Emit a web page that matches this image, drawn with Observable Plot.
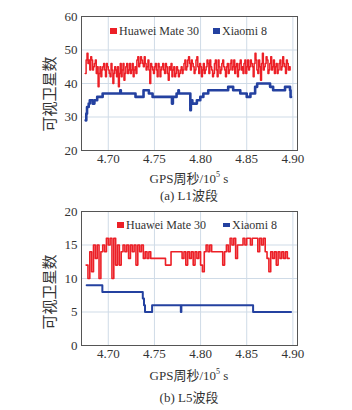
<!DOCTYPE html>
<html>
<head>
<meta charset="utf-8">
<script src="https://cdn.jsdelivr.net/npm/d3@7"></script>
<script src="https://cdn.jsdelivr.net/npm/@observablehq/plot@0.6"></script>
<style>
  html, body { margin: 0; padding: 0; background: #fff; }
  #wrap { position: relative; width: 352px; font-family: "Liberation Serif", "Noto Sans CJK SC", serif; color: #333; }
  .xlab, .cap { text-align: center; font-size: 13px; width: 352px; padding-left: 26px; box-sizing: border-box; overflow: visible; }
  .leg { position: absolute; font-size: 12px; white-space: nowrap; line-height: 14px; }
  .sw { position: absolute; }
  svg { display: block; }
</style>
</head>
<body>
<div id="wrap"></div>
<script>
// ---------- data ----------
const xTicks = [4.70, 4.75, 4.80, 4.85, 4.90];
const xDomain = [4.671, 4.905];
const yTicksL1 = [20, 30, 40, 50, 60];
const yTicksL5 = [0, 5, 10, 15, 20];
const seriesNames = ["Huawei Mate 30", "Xiaomi 8"];
const colors = ["#ec2027", "#2441a0"];

// L1 Huawei Mate 30 (GPS week seconds /1e5, visible satellites)
const huaweiL1T = [
 4.675,4.676,4.677,4.678,4.679,4.680,4.681,4.682,4.683,4.684,
 4.685,4.686,4.687,4.688,4.689,4.690,4.691,4.692,4.693,4.694,
 4.695,4.696,4.697,4.698,4.699,4.700,4.701,4.702,4.703,4.704,
 4.705,4.706,4.707,4.708,4.709,4.710,4.711,4.712,4.713,4.714,
 4.715,4.716,4.717,4.718,4.719,4.720,4.721,4.722,4.723,4.724,
 4.725,4.726,4.727,4.728,4.729,4.730,4.731,4.732,4.733,4.734,
 4.735,4.736,4.737,4.738,4.739,4.740,4.741,4.742,4.743,4.744,
 4.745,4.746,4.747,4.748,4.749,4.750,4.751,4.752,4.753,4.754,
 4.755,4.756,4.757,4.758,4.759,4.760,4.761,4.762,4.763,4.764,
 4.765,4.766,4.767,4.768,4.769,4.770,4.771,4.772,4.773,4.774,
 4.775,4.776,4.777,4.778,4.779,4.780,4.781,4.782,4.783,4.784,
 4.785,4.786,4.787,4.788,4.789,4.790,4.791,4.792,4.793,4.794,
 4.795,4.796,4.797,4.798,4.799,4.800,4.801,4.802,4.803,4.804,
 4.805,4.806,4.807,4.808,4.809,4.810,4.811,4.812,4.813,4.814,
 4.815,4.816,4.817,4.818,4.819,4.820,4.821,4.822,4.823,4.824,
 4.825,4.826,4.827,4.828,4.829,4.830,4.831,4.832,4.833,4.834,
 4.835,4.836,4.837,4.838,4.839,4.840,4.841,4.842,4.843,4.844,
 4.845,4.846,4.847,4.848,4.849,4.850,4.851,4.852,4.853,4.854,
 4.855,4.856,4.857,4.858,4.859,4.860,4.861,4.862,4.863,4.864,
 4.865,4.866,4.867,4.868,4.869,4.870,4.871,4.872,4.873,4.874,
 4.875,4.876,4.877,4.878,4.879,4.880,4.881,4.882,4.883,4.884,
 4.885,4.886,4.887,4.888,4.889,4.890,4.891,4.892,4.893,4.894,
 4.895,4.896,4.897];
const huaweiL1V = [
 43,47,49,46,47,44,48,47,44,45,
 46,47,43,45,39,43,45,42,44,45,
 46,44,42,46,45,44,43,42,46,44,
 40,43,45,44,42,45,39,43,46,42,
 44,46,41,43,45,46,43,44,46,43,
 44,46,42,44,45,43,47,48,45,46,
 48,47,46,45,48,46,44,45,47,44,
 40,46,45,44,43,45,46,44,42,46,
 45,42,44,45,46,44,43,46,45,43,
 41,45,44,46,42,44,45,42,43,45,
 44,42,43,44,45,43,44,46,47,44,
 45,47,48,46,44,47,46,45,43,44,
 47,48,45,43,46,45,42,44,46,43,
 44,45,47,46,43,47,45,44,42,43,
 46,47,44,42,47,45,43,44,46,47,
 45,44,42,45,46,43,44,46,47,44,
 45,47,43,45,46,42,44,46,47,44,
 45,43,46,47,43,45,47,44,45,47,
 46,45,42,46,49,47,44,43,47,45,
 41,46,49,44,45,46,48,47,43,44,
 46,48,44,45,47,43,45,46,43,44,
 46,47,44,45,48,46,45,43,47,46,
 44,45,44];

// L1 Xiaomi 8
const xiaomiL1T = [4.6755,4.6762,4.6770,4.6788,4.6800,4.6830,4.6850,4.6880,4.6939,4.7130,4.7136,4.7295,4.7382,4.7440,4.7480,4.7690,4.7700,4.7740,4.7760,4.7765,4.7889,4.7895,4.7911,4.7960,4.7997,4.8030,4.8083,4.8299,4.8353,4.8430,4.8500,4.8540,4.8591,4.8613,4.8753,4.8786,4.8915,4.8969,4.8975,4.8980];
const xiaomiL1V = [29,31,33,34,35,34,35,36,37,38,37,36,38,37,36,34,36,37,38,37,32,35,34,35,36,37,38,39,38,37,36,37,39,40,39,38,39,38,36,36];

// L5 Huawei Mate 30
const huaweiL5T = [4.676,4.678,4.680,4.682,4.684,4.686,4.688,4.690,4.692,4.694,4.696,4.698,4.700,4.702,4.704,4.706,4.708,4.710,4.712,4.714,4.716,4.718,4.720,4.722,4.724,4.726,4.728,4.730,4.732,4.734,4.736,4.738,4.740,4.742,4.744,4.746,4.748,4.762,4.768,4.780,4.782,4.784,4.786,4.788,4.790,4.792,4.794,4.796,4.798,4.800,4.802,4.804,4.806,4.808,4.810,4.812,4.824,4.826,4.828,4.830,4.832,4.834,4.836,4.838,4.840,4.846,4.848,4.850,4.854,4.856,4.862,4.864,4.866,4.868,4.870,4.872,4.874,4.876,4.878,4.880,4.882,4.884,4.886,4.888,4.890,4.892,4.894,4.896];
const huaweiL5V = [12,10,14,11,15,13,15,10,14,15,14,16,15,16,10,16,12,15,12,14,15,14,15,13,15,14,15,12,15,14,15,13,14,13,14,13,13,12,14,13,14,12,14,13,14,12,14,13,14,12,11,14,15,14,15,14,12,14,15,14,16,15,16,13,15,16,15,16,15,16,14,16,15,16,14,13,11,14,13,14,12,14,13,14,13,14,13,13];

// L5 Xiaomi 8
const xiaomiL5T = [4.6766,4.6936,4.7374,4.7387,4.7398,4.7475,4.7786,4.7792,4.8569,4.8980];
const xiaomiL5V = [9,8,7,6,5,6,5,6,5,5];

// ---------- build ----------
const zip = (t, v) => t.map((x, i) => ({x, y: v[i]}));
const font = '"Liberation Serif", "Noto Sans CJK SC", serif';

function chart({yDomain, yTicks, hua, xia, marginTop, ylabDy, huaW, xiaW}) {
  return Plot.plot({
    width: 352,
    height: marginTop + 134 + 19,
    marginLeft: 81,
    marginRight: 55,
    marginTop,
    marginBottom: 19,
    style: {fontFamily: font, fontSize: "13px", color: "#333", background: "#fff", overflow: "visible"},
    x: {domain: xDomain},
    y: {domain: yDomain},
    marks: [
      Plot.gridX(xTicks, {stroke: "#cfdbe7", strokeOpacity: 1}),
      Plot.gridY(yTicks, {stroke: "#cfdbe7", strokeOpacity: 1}),
      Plot.line(hua, {x: "x", y: "y", curve: "step-after", stroke: colors[0], strokeWidth: huaW}),
      Plot.line(xia, {x: "x", y: "y", curve: "step-after", stroke: colors[1], strokeWidth: xiaW}),
      Plot.frame({stroke: "#555"}),
      Plot.axisX({ticks: xTicks, tickFormat: d3.format(".2f"), tickSize: 0, tickPadding: 3, label: null, fill: "#333"}),
      Plot.axisY({ticks: yTicks, tickSize: 0, tickPadding: 4, label: null, fill: "#333"}),
      Plot.text(["可视卫星数"], {frameAnchor: "left", dx: -31, dy: ylabDy, rotate: -90, fontSize: 15, fill: "#333", textAnchor: "middle"})
    ]
  });
}

const wrap = document.getElementById("wrap");

function addLegend(top, redX, blueX, blueH) {
  const items = [
    {x: redX, c: colors[0], h: 6, t: seriesNames[0]},
    {x: blueX, c: colors[1], h: blueH, t: seriesNames[1]}
  ];
  for (const it of items) {
    const sw = document.createElement("div");
    sw.className = "sw";
    sw.style.left = it.x + "px";
    sw.style.top = (top - it.h / 2) + "px";
    sw.style.width = "7px";
    sw.style.height = it.h + "px";
    sw.style.background = it.c;
    wrap.appendChild(sw);
    const tx = document.createElement("div");
    tx.className = "leg";
    tx.style.left = (it.x + 9) + "px";
    tx.style.top = (top - 7) + "px";
    tx.textContent = it.t;
    wrap.appendChild(tx);
  }
}

function addDiv(cls, html, lh) {
  const d = document.createElement("div");
  d.className = cls;
  d.innerHTML = html;
  d.style.lineHeight = lh + "px";
  d.style.height = lh + "px";
  wrap.appendChild(d);
}

const xLabel = 'GPS周秒/10<span style="font-size:8px;position:relative;top:-6px">5</span> s';

wrap.appendChild(chart({yDomain: [20, 60], yTicks: yTicksL1, hua: zip(huaweiL1T, huaweiL1V), xia: zip(xiaomiL1T, xiaomiL1V), marginTop: 16, ylabDy: 10.5, huaW: 1.5, xiaW: 2.6}));
addDiv("xlab", xLabel, 20);
addDiv("cap", "(a) L1波段", 14);
wrap.appendChild(chart({yDomain: [0, 20], yTicks: yTicksL5, hua: zip(huaweiL5T, huaweiL5V), xia: zip(xiaomiL5T, xiaomiL5V), marginTop: 8, ylabDy: 13.5, huaW: 1.6, xiaW: 2}));
addDiv("xlab", xLabel, 24);
addDiv("cap", "(b) L5波段", 20);

addLegend(31, 110, 213, 6);
addLegend(224.5, 117, 223, 4);
</script>
</body>
</html>
